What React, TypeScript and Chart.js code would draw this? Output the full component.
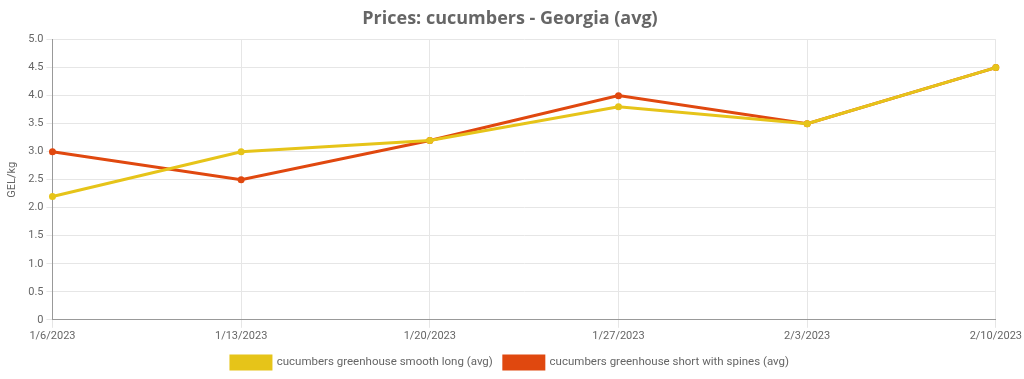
import React, { useEffect, useRef } from "react";
import { Chart, registerables } from "chart.js";

Chart.register(...registerables);

const categories = ["1/6/2023", "1/13/2023", "1/20/2023", "1/27/2023", "2/3/2023", "2/10/2023"];
const smoothLong = [2.2, 3.0, 3.2, 3.8, 3.5, 4.5];
const shortSpines = [3.0, 2.5, 3.2, 4.0, 3.5, 4.5];
const seriesNames = ["cucumbers greenhouse smooth long (avg)", "cucumbers greenhouse short with spines (avg)"];
const titleText = "Prices: cucumbers - Georgia (avg)";
const yTitle = "GEL/kg";

export default function App() {
  const ref = useRef<HTMLCanvasElement | null>(null);
  useEffect(() => {
    if (!ref.current) return;
    const chart = new Chart(ref.current, {
      type: "line",
      data: {
        labels: categories,
        datasets: [
          {
            label: seriesNames[0],
            data: smoothLong,
            borderColor: "#e6c419",
            backgroundColor: "#e6c419",
            borderWidth: 3,
            pointRadius: 3.5,
            pointBorderWidth: 0,
            tension: 0,
          },
          {
            label: seriesNames[1],
            data: shortSpines,
            borderColor: "#e0480f",
            backgroundColor: "#e0480f",
            borderWidth: 3,
            pointRadius: 3.5,
            pointBorderWidth: 0,
            tension: 0,
          },
        ],
      },
      options: {
        responsive: false,
        animation: false,
        layout: { padding: { left: 0, right: 4, top: 0, bottom: 0 } },
        plugins: {
          title: {
            display: true,
            text: titleText,
            color: "#666",
            font: { family: "'Open Sans', sans-serif", size: 18, weight: "bold" },
            padding: { top: 8, bottom: 10 },
          },
          legend: {
            position: "bottom",
            labels: {
              boxWidth: 40,
              boxHeight: 13,
              color: "#666",
              font: { family: "Roboto, sans-serif", size: 11.5 },
              padding: 11,
            },
          },
          tooltip: { enabled: false },
        },
        scales: {
          x: {
            grid: { color: "#e6e6e6", tickLength: 8 },
            border: { color: "#999" },
            ticks: {
              color: "#666",
              font: { family: "Roboto, sans-serif", size: 11 },
              maxRotation: 0,
              padding: 2,
            },
          },
          y: {
            min: 0,
            max: 5,
            grid: { color: "#e6e6e6", tickLength: 6 },
            border: { color: "#999" },
            ticks: {
              stepSize: 0.5,
              color: "#666",
              font: { family: "Roboto, sans-serif", size: 11 },
              padding: 3,
              callback: (v: any) => (Number(v) === 0 ? "0" : Number(v).toFixed(1)),
            },
            title: {
              display: true,
              text: yTitle,
              color: "#666",
              font: { family: "Roboto, sans-serif", size: 11 },
              padding: 6,
            },
          },
        },
      },
    });
    return () => chart.destroy();
  }, []);
  return (
    <div style={{ position: "fixed", left: 0, top: 0, width: 1024, height: 379, background: "#fff" }}>
      <canvas ref={ref} width={1024} height={379} style={{ display: "block" }} />
    </div>
  );
}
